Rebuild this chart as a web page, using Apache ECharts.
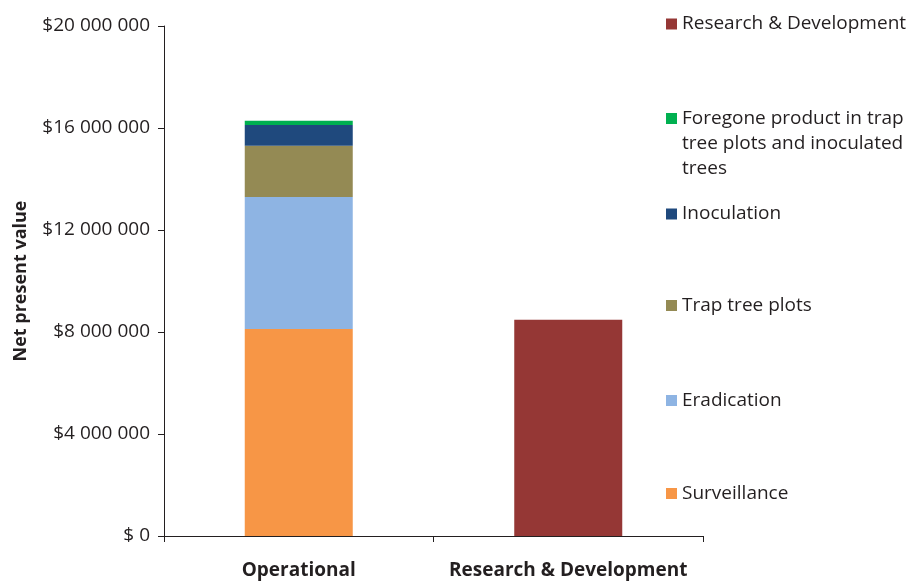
<!DOCTYPE html>
<html>
<head>
<meta charset="utf-8">
<script src="https://cdn.jsdelivr.net/npm/echarts@6/dist/echarts.min.js"></script>
<style>
  html, body { margin: 0; padding: 0; background: #ffffff; }
  #chart { width: 909px; height: 581px; }
</style>
</head>
<body>
<div id="chart"></div>
<script>
// Net present value of programme costs, by component
const categories = ['Operational', 'Research & Development'];

const seriesNames = [
  'Surveillance',
  'Eradication',
  'Trap tree plots',
  'Inoculation',
  'Foregone product in trap tree plots and inoculated trees',
  'Research & Development'
];

// Values per series: [Operational, Research & Development]
const surveillance = [8120000, null];
const eradication = [5170000, null];
const trapTreePlots = [2010000, null];
const inoculation = [820000, null];
const foregoneProduct = [160000, null];
const researchDevelopment = [null, 8480000];

const seriesValues = [surveillance, eradication, trapTreePlots, inoculation, foregoneProduct, researchDevelopment];
const seriesColors = ['#F79646', '#8EB4E3', '#948A54', '#1F497D', '#00B050', '#953735'];

// Legend order (top to bottom) and wrapped text for the long entry
const legendOrder = [5, 4, 3, 2, 1, 0];
const legendLines = {
  'Foregone product in trap tree plots and inoculated trees':
    ['Foregone product in trap', 'tree plots and inoculated', 'trees']
};
const legendCenters = [24, 118.5, 214, 305.5, 400.5, 493.5];

const yTicks = { min: 0, max: 20000000, interval: 4000000 };

const textColor = '#231f20';
const font = 'Open Sans';
const lineH = 25;

function money(v) {
  if (v === 0) return '$ 0';
  return '$' + String(v).replace(/\B(?=(\d{3})+(?!\d))/g, ' ');
}

// Legend text: wrapped entries get leading blank lines so the marker
// sits beside the first line of the text
function legendLabel(name) {
  const lines = legendLines[name];
  if (!lines) return name;
  const blanks = new Array(lines.length - 1).fill('');
  return blanks.concat(lines).join('\n');
}

const chart = echarts.init(document.getElementById('chart'), null, { renderer: 'canvas' });

const legends = legendOrder.map((idx, i) => {
  const name = seriesNames[idx];
  const lines = legendLines[name] ? legendLines[name].length * 2 - 1 : 1;
  return {
    data: [name],
    left: 666,
    top: legendCenters[i] - (lines * lineH) / 2,
    padding: 0,
    orient: 'vertical',
    icon: 'rect',
    itemWidth: 11,
    itemHeight: 11,
    selectedMode: false,
    formatter: legendLabel,
    textStyle: {
      fontFamily: font,
      fontSize: 19,
      color: textColor,
      lineHeight: lineH
    }
  };
});

const series = seriesNames.map((name, i) => ({
  name: name,
  type: 'bar',
  stack: 'npv',
  barWidth: 108,
  itemStyle: { color: seriesColors[i] },
  data: seriesValues[i].map(v => (v === null ? '-' : v))
}));

chart.setOption({
  animation: false,
  backgroundColor: '#ffffff',
  grid: { left: 164, right: 206, top: 26, bottom: 45, outerBoundsMode: 'none' },
  legend: legends,
  xAxis: {
    type: 'category',
    data: categories,
    axisLine: { lineStyle: { color: textColor, width: 1 } },
    axisTick: { show: true, length: 6, lineStyle: { color: textColor } },
    axisLabel: {
      interval: 0,
      margin: 25,
      fontFamily: font,
      fontSize: 19,
      fontWeight: 'bold',
      color: textColor
    }
  },
  yAxis: {
    type: 'value',
    min: yTicks.min,
    max: yTicks.max,
    interval: yTicks.interval,
    name: 'Net present value',
    nameLocation: 'middle',
    nameGap: 134,
    nameTextStyle: {
      fontFamily: font,
      fontSize: 18,
      fontWeight: 'bold',
      color: textColor
    },
    splitLine: { show: false },
    axisLine: { show: true, lineStyle: { color: textColor, width: 1 } },
    axisTick: { show: true, length: 6, lineStyle: { color: textColor } },
    axisLabel: {
      margin: 14,
      fontFamily: font,
      fontSize: 19,
      color: textColor,
      formatter: money
    }
  },
  series: series
});
</script>
</body>
</html>
